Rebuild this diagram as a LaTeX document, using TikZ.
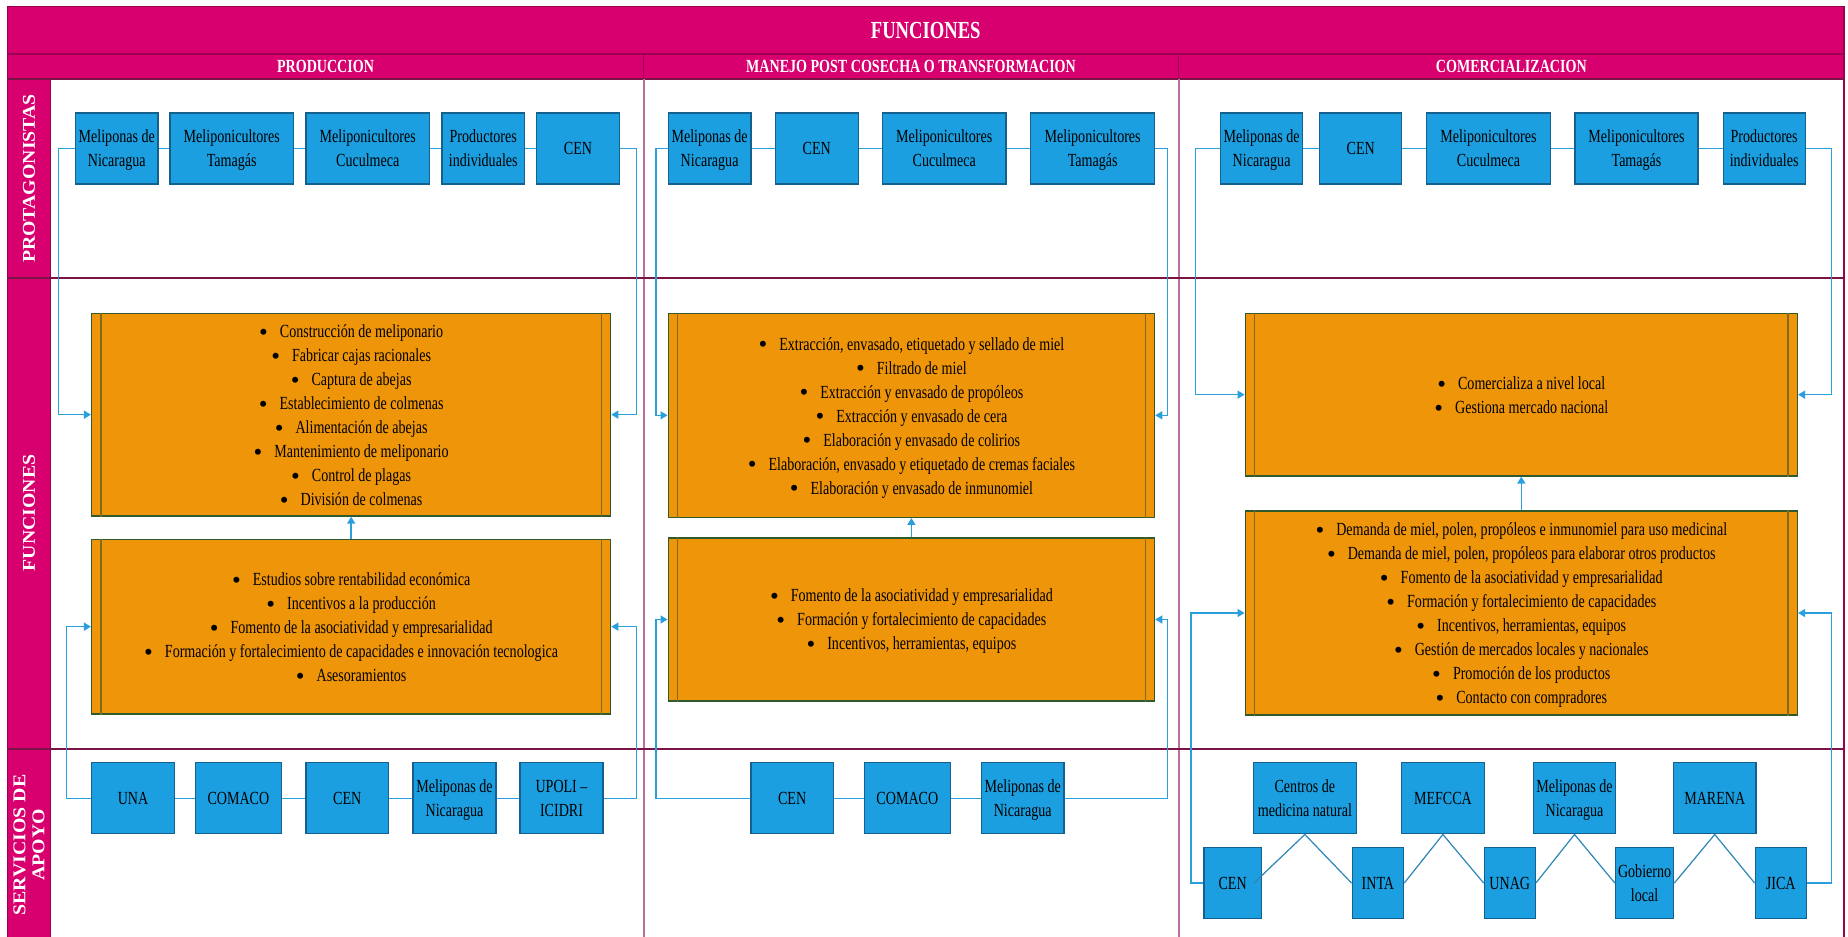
\documentclass[tikz,border=0pt]{standalone}
\usepackage{fontspec}
\setmainfont{Liberation Serif}[FakeStretch=0.76]
\newfontfamily\labelfont{Liberation Serif}[FakeStretch=1.1]
\newfontfamily\bulletfont{Liberation Serif}
\usetikzlibrary{arrows.meta}
\definecolor{band}{HTML}{D7006E}
\definecolor{banddark}{HTML}{9C0050}
\definecolor{rowline}{HTML}{7A1446}
\definecolor{colline}{HTML}{B8709C}
\definecolor{boxblue}{HTML}{1C9FE0}
\definecolor{boxblueedge}{HTML}{15608E}
\definecolor{boxorange}{HTML}{EF950A}
\definecolor{oedge}{HTML}{2E5A2E}
\definecolor{oinner}{HTML}{7F6A1E}
\definecolor{connblue}{HTML}{2A9FDE}
\definecolor{zigblue}{HTML}{2C86B8}
\newcommand\boxfont{\fontsize{18.5}{24}\selectfont}
\newcommand\itm{\raisebox{-2.6pt}{\bulletfont\fontsize{25}{24}\selectfont\textbullet}\hspace{12pt}}
\newcommand\topstrut{\rule{0pt}{14pt}}
\tikzset{
  pbox/.style={draw=boxblueedge, fill=boxblue, line width=1.2pt, inner sep=0pt,
    align=center, minimum height=71pt, font=\boxfont, text=black, text depth=0pt},
  obox/.style={draw=oedge, fill=boxorange, line width=1.3pt, inner sep=0pt,
    align=center, font=\boxfont, text=black, text depth=0pt},
  conn/.style={draw=connblue, line width=1.4pt},
  arr/.style={conn, -{Triangle[length=7pt,width=8pt]}},
  zig/.style={draw=zigblue, line width=1.2pt},
  hdr/.style={text=white, font=\bfseries\fontsize{18.5}{20}\selectfont, inner sep=0pt},
  rowlab/.style={text=white, font=\labelfont\bfseries\fontsize{18}{19}\selectfont,
    rotate=90, align=center, inner sep=0pt}
}
\begin{document}
\begin{tikzpicture}[x=1pt,y=-1pt]
\useasboundingbox (0,0) rectangle (1848,937);
\fill[white] (0,0) rectangle (1848,937);
% bands
\fill[band] (7.5,6.7) rectangle (1844,79);
\fill[band] (7.5,79) rectangle (50.5,940);
\draw[banddark, line width=1.5pt] (7.5,54) -- (1844,54);
\draw[banddark, line width=1.5pt] (643.5,54) -- (643.5,79);
\draw[banddark, line width=1.5pt] (1178.6,54) -- (1178.6,79);
\draw[rowline, line width=1.5pt] (7.5,79) -- (1844,79);
\draw[banddark, line width=1.5pt] (7.5,940) -- (7.5,6.7) -- (1844,6.7) -- (1844,940);
\draw[banddark, line width=1pt] (50.5,79) -- (50.5,940);
% column dividers
\draw[colline, line width=2pt] (643.5,79) -- (643.5,940);
\draw[colline, line width=2pt] (1178.6,79) -- (1178.6,940);
% row dividers
\draw[rowline, line width=2.4pt] (7.5,278) -- (1844,278);
\draw[rowline, line width=2.4pt] (7.5,749) -- (1844,749);

% titles
\node[hdr, font=\bfseries\fontsize{24.5}{26}\selectfont] (title) at (925.75,30.5) {FUNCIONES};
\node[hdr] (h1) at (325.5,66.5) {PRODUCCION};
\node[hdr] (h2) at (911,66.5) {MANEJO POST COSECHA O TRANSFORMACION};
\node[hdr] (h3) at (1511.3,66.5) {COMERCIALIZACION};
\node[rowlab] (r1) at (29,178.5) {PROTAGONISTAS};
\node[rowlab] (r2) at (29,513) {FUNCIONES};
\node[rowlab] (r3) at (29,845) {SERVICIOS DE\\APOYO};

% protagonists
\node[pbox, minimum width=82.5pt] (b11) at (116.75,148.5) {Meliponas de\\Nicaragua};
\node[pbox, minimum width=123.5pt] (b12) at (231.75,148.5) {Meliponicultores\\Tamagás};
\node[pbox, minimum width=123.5pt] (b13) at (367.75,148.5) {Meliponicultores\\Cuculmeca};
\node[pbox, minimum width=82.5pt] (b14) at (483.25,148.5) {Productores\\individuales};
\node[pbox, minimum width=83pt] (b15) at (578,148.5) {CEN};

\node[pbox, minimum width=82.8pt] (b21) at (709.6,148.5) {Meliponas de\\Nicaragua};
\node[pbox, minimum width=82.8pt] (b22) at (816.8,148.5) {CEN};
\node[pbox, minimum width=123.5pt] (b23) at (944.25,148.5) {Meliponicultores\\Cuculmeca};
\node[pbox, minimum width=124pt] (b24) at (1092.65,148.5) {Meliponicultores\\Tamagás};

\node[pbox, minimum width=82.2pt] (b31) at (1261.6,148.5) {Meliponas de\\Nicaragua};
\node[pbox, minimum width=82pt] (b32) at (1360.7,148.5) {CEN};
\node[pbox, minimum width=123.6pt] (b33) at (1488.5,148.5) {Meliponicultores\\Cuculmeca};
\node[pbox, minimum width=123pt] (b34) at (1636.5,148.5) {Meliponicultores\\Tamagás};
\node[pbox, minimum width=82pt] (b35) at (1764.1,148.5) {Productores\\individuales};

% functions
\node[obox, minimum width=519.1pt, minimum height=202.7pt] (f1) at (351.15,414.65)
 {\topstrut\itm Construcción de meliponario\\\itm Fabricar cajas racionales\\\itm Captura de abejas\\\itm Establecimiento de colmenas\\\itm Alimentación de abejas\\\itm Mantenimiento de meliponario\\\itm Control de plagas\\\itm División de colmenas};
\node[obox, minimum width=519.1pt, minimum height=174.7pt] (f2) at (351.15,626.65)
 {\topstrut\itm Estudios sobre rentabilidad económica\\\itm Incentivos a la producción\\\itm Fomento de la asociatividad y empresarialidad\\\itm Formación y fortalecimiento de capacidades e innovación tecnologica\\\itm Asesoramientos};
\node[obox, minimum width=486.4pt, minimum height=204pt] (f3) at (911.4,415.3)
 {\topstrut\itm Extracción, envasado, etiquetado y sellado de miel\\\itm Filtrado de miel\\\itm Extracción y envasado de propóleos\\\itm Extracción y envasado de cera\\\itm Elaboración y envasado de colirios\\\itm Elaboración, envasado y etiquetado de cremas faciales\\\itm Elaboración y envasado de inmunomiel};
\node[obox, minimum width=486.4pt, minimum height=163pt] (f4) at (911.4,619.5)
 {\itm Fomento de la asociatividad y empresarialidad\\\itm Formación y fortalecimiento de capacidades\\\itm Incentivos, herramientas, equipos};
\node[obox, minimum width=552.2pt, minimum height=162.7pt] (f5) at (1521.3,394.65)
 {\topstrut\itm Comercializa a nivel local\\\itm Gestiona mercado nacional};
\node[obox, minimum width=552.2pt, minimum height=204pt] (f6) at (1521.3,613)
 {\itm Demanda de miel, polen, propóleos e inmunomiel para uso medicinal\\\itm Demanda de miel, polen, propóleos para elaborar otros productos\\\itm Fomento de la asociatividad y empresarialidad\\\itm Formación y fortalecimiento de capacidades\\\itm Incentivos, herramientas, equipos\\\itm Gestión de mercados locales y nacionales\\\itm Promoción de los productos\\\itm Contacto con compradores};
\foreach \n in {f1,f2,f3,f4,f5,f6}{
  \draw[oinner, line width=1.3pt] ([xshift=10pt]\n.north west) -- ([xshift=10pt]\n.south west);
  \draw[oinner, line width=1.3pt] ([xshift=-10pt]\n.north east) -- ([xshift=-10pt]\n.south east);
}

% services
\node[pbox, minimum width=82.9pt] (s11) at (133.05,798.35) {UNA};
\node[pbox, minimum width=86.2pt] (s12) at (238.4,798.35) {COMACO};
\node[pbox, minimum width=82.5pt] (s13) at (347.25,798.35) {CEN};
\node[pbox, minimum width=83pt] (s14) at (454.5,798.35) {Meliponas de\\Nicaragua};
\node[pbox, minimum width=83pt] (s15) at (561.5,798.35) {UPOLI –\\ICIDRI};

\node[pbox, minimum width=82.2pt] (s21) at (792.1,798.35) {CEN};
\node[pbox, minimum width=86.1pt] (s22) at (907.35,798.35) {COMACO};
\node[pbox, minimum width=82.6pt] (s23) at (1022.7,798.35) {Meliponas de\\Nicaragua};

\node[pbox, minimum width=103.1pt] (t1) at (1304.85,798.35) {Centros de\\medicina natural};
\node[pbox, minimum width=82.6pt] (t2) at (1442.9,798.35) {MEFCCA};
\node[pbox, minimum width=81.8pt] (t3) at (1574.5,798.35) {Meliponas de\\Nicaragua};
\node[pbox, minimum width=82.6pt] (t4) at (1714.7,798.35) {MARENA};
\node[pbox, minimum width=57.5pt] (u1) at (1232.65,883) {CEN};
\node[pbox, minimum width=51.6pt] (u2) at (1377.9,883) {INTA};
\node[pbox, minimum width=51.1pt] (u3) at (1509.75,883) {UNAG};
\node[pbox, minimum width=58.4pt] (u4) at (1644.6,883) {Gobierno\\local};
\node[pbox, minimum width=51.1pt] (u5) at (1780.75,883) {JICA};

% connectors: column 1
\draw[conn] (b11.east) -- (b12.west) (b12.east) -- (b13.west) (b13.east) -- (b14.west) (b14.east) -- (b15.west);
\draw[arr] (b11.west) -- ++(-16.2,0) |- (f1.west);
\draw[arr] (b15.east) -- ++(16.2,0) |- (f1.east);
\draw[arr] (f2.north) -- (f1.south);
\draw[conn] (s11.east) -- (s12.west) (s12.east) -- (s13.west) (s13.east) -- (s14.west) (s14.east) -- (s15.west);
\draw[arr] (s11.west) -- ++(-24.4,0) |- (f2.west);
\draw[arr] (s15.east) -- ++(32.6,0) |- (f2.east);
% column 2
\draw[conn] (b21.east) -- (b22.west) (b22.east) -- (b23.west) (b23.east) -- (b24.west);
\draw[arr] (b21.west) -- ++(-11.8,0) |- (f3.west);
\draw[arr] (b24.east) -- ++(12.4,0) |- (f3.east);
\draw[arr] (f4.north) -- (f3.south);
\draw[conn] (s21.east) -- (s22.west) (s22.east) -- (s23.west);
\draw[arr] (s21.west) -- ++(-94.6,0) |- (f4.west);
\draw[arr] (s23.east) -- ++(103,0) |- (f4.east);
% column 3
\draw[conn] (b31.east) -- (b32.west) (b32.east) -- (b33.west) (b33.east) -- (b34.west) (b34.east) -- (b35.west);
\draw[arr] (b31.west) -- ++(-24.7,0) |- (f5.west);
\draw[arr] (b35.east) -- ++(25.6,0) |- (f5.east);
\draw[arr] (f6.north) -- (f5.south);
\draw[arr] (u1.west) -- ++(-12.4,0) |- (f6.west);
\draw[arr] (u5.east) -- ++(24.7,0) |- (f6.east);
\draw[zig] ([xshift=-8pt]u1.east) -- (t1.south) -- (u2.west);
\draw[zig] (u2.east) -- (t2.south) -- (u3.west);
\draw[zig] (u3.east) -- (t3.south) -- (u4.west);
\draw[zig] (u4.east) -- (t4.south) -- (u5.west);
\end{tikzpicture}
\end{document}
